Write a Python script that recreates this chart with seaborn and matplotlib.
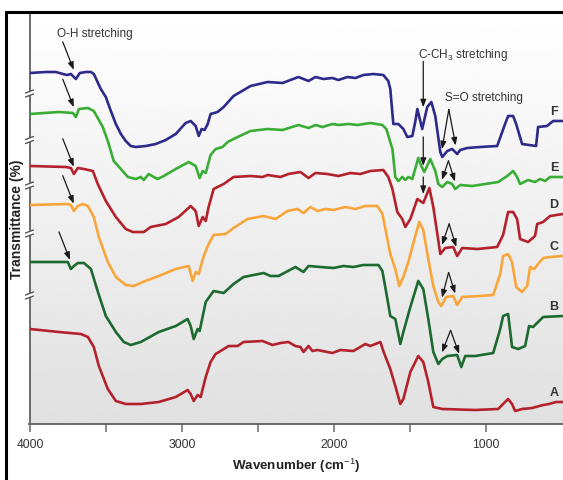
import numpy as np
import pandas as pd
import matplotlib
matplotlib.use("Agg")
import matplotlib.pyplot as plt
import seaborn as sns
from matplotlib.lines import Line2D

# ---------------- data (wavenumber in cm-1, transmittance in arbitrary stacked units) -------------
series_names = ["A", "B", "C", "D", "E", "F"]
series_colors = ["#b3222c", "#1c6a30", "#f8a63c", "#b3222c", "#3aad37", "#2d2a8a"]

wn_F = [4000, 3895, 3829, 3783, 3757, 3731, 3698, 3672, 3632, 3599, 3580, 3534, 3501, 3468, 3435,
        3402, 3370, 3337, 3304, 3238, 3173, 3107, 3041, 2976, 2943, 2910, 2890, 2871, 2851, 2831,
        2812, 2766, 2726, 2661, 2549, 2437, 2339, 2234, 2168, 2122, 2070, 2011, 1971, 1912, 1859,
        1807, 1741, 1676, 1643, 1630, 1610, 1577, 1544, 1518, 1485, 1466, 1452, 1420, 1387, 1360,
        1334, 1301, 1288, 1255, 1223, 1190, 1170, 1124, 1039, 927, 875, 855, 822, 802, 763, 671,
        658, 599, 559, 494]
t_F = [351, 352, 352, 350, 349, 350, 345, 351, 352, 352, 350, 335, 327, 313, 300,
       290, 283, 278, 277, 278, 280, 284, 290, 301, 303, 298, 288, 295, 294, 300,
       310, 312, 317, 328, 338, 342, 341, 347, 343, 347, 345, 346, 344, 347, 346,
       349, 350, 349, 343, 335, 300, 300, 295, 287, 288, 302, 315, 295, 317, 322,
       308, 272, 267, 273, 275, 270, 274, 276, 277, 278, 300, 308, 308, 300, 280, 278,
       297, 298, 303, 303]

wn_E = [4000, 3810, 3718, 3698, 3678, 3619, 3580, 3521, 3488, 3449, 3402, 3356, 3304, 3271, 3251,
        3219, 3186, 3160, 3120, 3041, 2956, 2910, 2884, 2864, 2844, 2812, 2779, 2733, 2700, 2634,
        2549, 2437, 2339, 2234, 2168, 2122, 2076, 2011, 1971, 1905, 1846, 1761, 1682, 1656, 1636,
        1616, 1597, 1577, 1551, 1531, 1511, 1485, 1446, 1426, 1406, 1367, 1334, 1314, 1288, 1255,
        1223, 1203, 1170, 1091, 1006, 920, 861, 822, 796, 776, 724, 678, 645, 612, 579, 494]
t_E = [310, 312, 311, 307, 315, 316, 313, 297, 283, 263, 255, 247, 245, 247, 244,
       250, 247, 245, 248, 255, 262, 258, 246, 253, 251, 269, 275, 277, 282, 287,
       293, 295, 294, 299, 296, 299, 297, 300, 299, 300, 299, 301, 299, 295, 285,
       275, 247, 243, 247, 244, 247, 245, 266, 258, 252, 265, 253, 240, 237, 242,
       240, 235, 239, 238, 240, 242, 248, 253, 247, 240, 244, 242, 245, 243, 247, 247]

wn_D = [4000, 3764, 3731, 3711, 3685, 3645, 3586, 3554, 3501, 3435, 3370, 3324, 3251, 3206, 3107,
        3022, 2943, 2910, 2890, 2864, 2844, 2825, 2792, 2726, 2661, 2549, 2470, 2437, 2352, 2300,
        2221, 2168, 2122, 2044, 1971, 1892, 1827, 1761, 1676, 1643, 1616, 1584, 1551, 1531, 1498,
        1452, 1413, 1373, 1347, 1301, 1269, 1216, 1190, 1157, 1058, 927, 888, 855, 822, 796, 776,
        724, 678, 664, 625, 579, 494]
t_D = [258, 257, 256, 250, 256, 255, 253, 240, 223, 207, 195, 192, 192, 197, 200,
       207, 218, 213, 198, 207, 203, 217, 235, 240, 247, 248, 247, 249, 247, 250,
       252, 246, 251, 250, 248, 251, 250, 253, 254, 247, 235, 212, 205, 197, 205,
       225, 221, 236, 217, 170, 176, 177, 168, 176, 175, 177, 189, 212, 212, 205, 185,
       182, 188, 200, 202, 208, 210]

wn_C = [4000, 3751, 3731, 3711, 3685, 3652, 3619, 3580, 3547, 3488, 3435, 3370, 3317, 3258, 3153,
        3041, 2956, 2930, 2910, 2890, 2857, 2825, 2792, 2713, 2661, 2569, 2463, 2385, 2306, 2240,
        2201, 2155, 2109, 2057, 2004, 1925, 1859, 1794, 1715, 1682, 1662, 1630, 1597, 1571, 1544,
        1511, 1466, 1439, 1413, 1380, 1347, 1314, 1295, 1262, 1216, 1190, 1157, 1039, 953, 907,
        888, 855, 829, 802, 763, 730, 710, 684, 658, 625, 579, 494]
t_C = [219, 220, 219, 213, 218, 220, 218, 207, 187, 162, 147, 139, 138, 142, 148,
       155, 158, 143, 152, 150, 168, 180, 189, 190, 196, 205, 208, 205, 213, 215,
       211, 217, 213, 215, 214, 217, 215, 218, 218, 210, 195, 170, 155, 138, 147,
       162, 188, 202, 194, 165, 138, 122, 118, 127, 128, 119, 127, 128, 129, 150,
       168, 170, 162, 137, 132, 138, 157, 155, 160, 166, 167, 168]

wn_B = [4000, 3783, 3751, 3731, 3711, 3685, 3645, 3599, 3553, 3501, 3435, 3383, 3337, 3271, 3153,
        3041, 2963, 2943, 2923, 2897, 2884, 2844, 2792, 2726, 2661, 2595, 2463, 2418, 2365, 2254,
        2201, 2168, 2089, 2004, 1938, 1873, 1807, 1708, 1682, 1649, 1630, 1597, 1564, 1544, 1498,
        1446, 1413, 1380, 1347, 1314, 1288, 1255, 1190, 1163, 1137, 1071, 953, 907, 888, 855, 829,
        789, 743, 717, 691, 658, 625, 494]
t_B = [162, 162, 162, 155, 158, 161, 161, 155, 132, 108, 92, 82, 79, 82, 92,
       98, 105, 98, 85, 95, 93, 122, 133, 131, 140, 147, 151, 148, 148, 157,
       152, 158, 157, 156, 158, 157, 159, 159, 153, 125, 108, 105, 80, 92, 117,
       143, 135, 105, 72, 60, 65, 68, 69, 57, 68, 68, 71, 95, 108, 110, 77,
       75, 78, 98, 97, 102, 107, 108]

wn_A = [4000, 3810, 3665, 3619, 3580, 3547, 3488, 3435, 3370, 3271, 3153, 3041, 2963, 2943, 2923,
        2897, 2877, 2844, 2812, 2779, 2746, 2693, 2634, 2595, 2470, 2405, 2352, 2300, 2254, 2221,
        2201, 2168, 2142, 2109, 2011, 1958, 1873, 1794, 1761, 1695, 1676, 1630, 1597, 1564, 1544,
        1498, 1446, 1413, 1380, 1347, 1288, 1071, 920, 888, 855, 829, 809, 763, 697, 625, 586,
        540, 494]
t_A = [95, 92, 90, 87, 77, 58, 35, 23, 20, 20, 22, 27, 34, 30, 23,
       29, 27, 47, 62, 70, 73, 78, 78, 82, 83, 79, 81, 82, 78, 77,
       72, 78, 73, 74, 71, 74, 73, 80, 78, 82, 73, 55, 38, 20, 25,
       52, 68, 62, 42, 17, 15, 14, 15, 20, 25, 20, 13, 15, 16, 19, 20,
       22, 22]

x_ticks = [4000, 3500, 3000, 2500, 2000, 1500, 1000]
x_tick_labels = ["4000", "", "3000", "", "2000", "", "1000"]

curves = {"A": (wn_A, t_A), "B": (wn_B, t_B), "C": (wn_C, t_C),
          "D": (wn_D, t_D), "E": (wn_E, t_E), "F": (wn_F, t_F)}

df = pd.concat([pd.DataFrame({"wavenumber": w, "T": t, "sample": k})
                for k, (w, t) in curves.items()], ignore_index=True)

# ---------------- style -------------
sns.set_style("white")
plt.rcParams["font.family"] = ["Liberation Sans", "DejaVu Sans"]
plt.rcParams["mathtext.fontset"] = "custom"
plt.rcParams["mathtext.rm"] = "Liberation Sans"
plt.rcParams["mathtext.it"] = "Liberation Sans:italic"
plt.rcParams["mathtext.bf"] = "Liberation Sans:bold"
plt.rcParams["lines.solid_joinstyle"] = "round"
plt.rcParams["lines.solid_capstyle"] = "round"

W, H = 563, 481
fig = plt.figure(figsize=(W / 100, H / 100), dpi=100)
ax = fig.add_axes([29.5 / W, 1 - 425 / H, 1 - 29.5 / W, (425 - 14) / H])

# gradient background
grad = np.linspace(0.88, 1.0, 256).reshape(-1, 1)
ax.imshow(grad, cmap="gray", vmin=0, vmax=1, aspect="auto", extent=[0, 1, 1, 0],
          transform=ax.transAxes, zorder=0, interpolation="bicubic")

sns.lineplot(data=df, x="wavenumber", y="T", hue="sample", hue_order=series_names,
             palette=dict(zip(series_names, series_colors)), estimator=None, sort=False,
             linewidth=1.9, legend=False, ax=ax, zorder=3)

ax.set_xlim(4003, 494)
ax.set_ylim(0, 411)
ax.set_xticks(x_ticks)
ax.set_xticklabels(x_tick_labels)
ax.set_yticks([])
ax.tick_params(axis="x", direction="out", length=6, width=1.2, color="#777777",
               labelsize=8.7, labelcolor="#333333", pad=4, bottom=True)
for s in ["top", "right"]:
    ax.spines[s].set_visible(False)
for s in ["left", "bottom"]:
    ax.spines[s].set_color("#6a6a6a")
    ax.spines[s].set_linewidth(1.4)
ax.set_xlabel("Wavenumber (cm$^{-1}$)", fontsize=9.6, fontweight="bold", color="#222222", labelpad=4)
ax.set_ylabel("Transmittance (%)", fontsize=10, fontweight="bold", color="#222222", labelpad=4)


def val(name, w):
    wn, t = curves[name]
    return float(np.interp(w, wn[::-1], t[::-1]))


# series labels
for name in series_names:
    wn, t = curves[name]
    ax.text(553, t[-1] + 10, name, fontsize=9, fontweight="bold", color="#333333",
            ha="center", va="center", zorder=5)

# axis break marks on the left spine
ytr = ax.get_yaxis_transform()
px = 1.0 / (W - 29.5)
starts = [curves[n][1][0] for n in series_names]
for lo, hi in zip(starts[:-1], starts[1:]):
    yb = (lo + hi) / 2.0
    xs = np.array([-4 * px, 4 * px])
    ax.fill([-4 * px, 4 * px, 4 * px, -4 * px], [yb - 3, yb, yb + 3, yb],
            color="white", transform=ytr, clip_on=False, zorder=6)
    ax.plot(xs, [yb - 3.5, yb - 0.5], color="#555555", lw=1.0, transform=ytr, clip_on=False, zorder=7)
    ax.plot(xs, [yb + 0.5, yb + 3.5], color="#555555", lw=1.0, transform=ytr, clip_on=False, zorder=7)

arrow_kw = dict(arrowstyle="-|>,head_length=0.45,head_width=0.17", color="#1a1a1a",
                lw=0.9, shrinkA=0, shrinkB=0)
cm_per_px = 6.566

# O-H stretching
ax.text(3573, 391, "O-H stretching", fontsize=8.5, color="#333333", ha="center", va="center")
for name in ["F", "E", "D", "C", "B"]:
    hw = 3712 if name != "B" else 3737
    hy = val(name, hw) + 7
    ax.annotate("", xy=(hw, hy), xytext=(hw + 11 * cm_per_px, hy + 28), arrowprops=arrow_kw, zorder=6)

# C-CH3 stretching
ax.text(1150, 370, "C-CH$_3$ stretching", fontsize=8.5, color="#333333", ha="center", va="center")
for name, gap, length in [("F", 17, 46), ("E", 4, 29), ("D", 9, 17)]:
    hy = val(name, 1413) + gap
    ax.annotate("", xy=(1413, hy), xytext=(1413, hy + length), arrowprops=arrow_kw, zorder=6)

# S=O stretching
ax.text(1012, 327, "S=O stretching", fontsize=8.5, color="#333333", ha="center", va="center")
for name, rise, w2 in [("F", 36, 1200), ("E", 19, 1205), ("D", 21, 1196), ("C", 21, 1203), ("B", 22, 1177)]:
    w1 = 1290
    h1 = val(name, w1) + 7
    h2 = val(name, w2) + 7
    apex = ((w1 + w2) / 2.0, max(h1, h2) + rise)
    ax.annotate("", xy=(w1, h1), xytext=apex, arrowprops=arrow_kw, zorder=6)
    ax.annotate("", xy=(w2, h2), xytext=apex, arrowprops=arrow_kw, zorder=6)

# black outer frame (cropped figure border)
fy = 1 - 12.5 / H
fx = 5.5 / W
fig.add_artist(Line2D([fx, fx], [0, fy], transform=fig.transFigure, color="black", lw=2.2))
fig.add_artist(Line2D([fx, 1], [fy, fy], transform=fig.transFigure, color="black", lw=2.2))

fig.savefig("out.png", dpi=100)
